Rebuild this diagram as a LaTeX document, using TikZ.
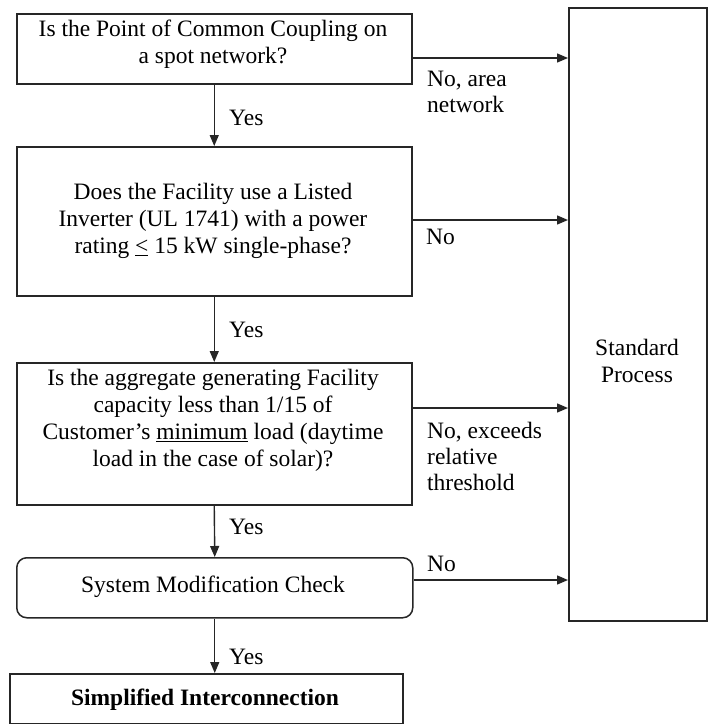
\documentclass[tikz,border=0pt]{standalone}
\usepackage{fontspec}
\setmainfont{Liberation Serif}
\usetikzlibrary{arrows.meta}
\begin{document}
\begin{tikzpicture}[x=1pt,y=-1pt,
  box/.style={draw=black!85, line width=1.5pt, inner sep=0pt, anchor=north west},
  txt/.style={font=\fontsize{23.5}{27}\selectfont, align=center, inner sep=0pt},
  lbl/.style={font=\fontsize{23.5}{26}\selectfont, align=left, inner sep=0pt, anchor=west},
  arr/.style={draw=black!85, line width=1.4pt, -{Triangle[length=11pt,width=9pt]}}]
\useasboundingbox (0,0) rectangle (709,724);
% boxes
\node[box, minimum width=395pt, minimum height=70pt] (b1) at (16,13) {};
\node[box, minimum width=395pt, minimum height=149pt] (b2) at (16,146) {};
\node[box, minimum width=395pt, minimum height=142pt] (b3) at (16,362) {};
\node[box, rounded corners=10pt, minimum width=396pt, minimum height=60pt] (b4) at (16,557) {};
\node[box, minimum width=393pt, minimum height=50pt] (b5) at (9,673) {};
\node[box, minimum width=138pt, minimum height=613pt] (sp) at (568,7) {};
% texts
\node[txt] (t1) at (213,44) {Is the Point of Common Coupling on\\a spot network?};
\node[txt] (t2) at (213,221) {Does the Facility use a Listed\\Inverter (UL 1741) with a power\\rating \underline{<} 15 kW single-phase?};
\node[txt] (t3) at (213,420) {Is the aggregate generating Facility\\capacity less than 1/15 of\\Customer’s \underline{minimum} load (daytime\\load in the case of solar)?};
\node[txt] (t4) at (213,587) {System Modification Check};
\node[txt, font=\fontsize{23.5}{27}\selectfont\bfseries] (t5) at (205,700) {Simplified Interconnection};
\node[txt] (tsp) at (637,361) {Standard\\Process};
% vertical arrows
\draw[arr] (b1.south) -- (b2.north);
\draw[arr] (b2.south) -- (b3.north);
\draw[arr] (b3.south) -- (b4.south |- b4.north);
\draw[arr] (b4.south) -- (b4.south |- b5.north);
\node[lbl] (y1) at (229,118) {Yes};
\node[lbl] (y2) at (229,330) {Yes};
\node[lbl] (y3) at (229,527) {Yes};
\node[lbl] (y4) at (229,657) {Yes};
% horizontal arrows
\coordinate (h1) at (0,58);
\coordinate (h2) at (0,220);
\coordinate (h3) at (0,408);
\coordinate (h4) at (0,580);
\draw[arr] (b1.east |- h1) -- (sp.west |- h1);
\draw[arr] (b2.east |- h2) -- (sp.west |- h2);
\draw[arr] (b3.east |- h3) -- (sp.west |- h3);
\draw[arr] (b4.east |- h4) -- (sp.west |- h4);
\node[lbl] (n1) at (427,92) {No, area\\network};
\node[lbl] (n2) at (426,237) {No};
\node[lbl] (n3) at (427,456) {No, exceeds\\relative\\threshold};
\node[lbl] (n4) at (427,564) {No};
\end{tikzpicture}
\end{document}
